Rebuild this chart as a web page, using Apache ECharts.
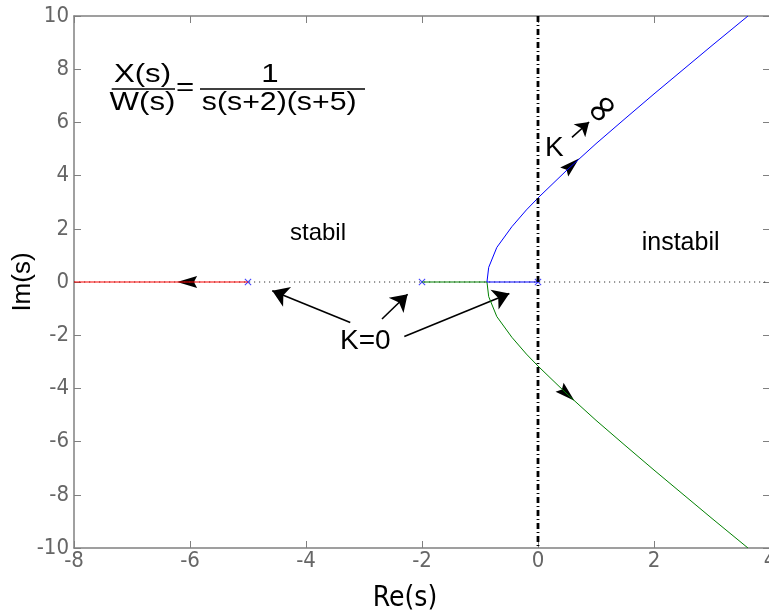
<!DOCTYPE html>
<html>
<head>
<meta charset="utf-8">
<script src="https://cdn.jsdelivr.net/npm/echarts@6/dist/echarts.min.js"></script>
<style>
html,body{margin:0;padding:0;background:#fff;}
#chart{width:769px;height:613px;}
</style>
</head>
<body>
<div id="chart"></div>
<script>
// ---- data ----
const xTicks = [-8, -6, -4, -2, 0, 2, 4];
const yTicks = [-10, -8, -6, -4, -2, 0, 2, 4, 6, 8, 10];
const poles = [[-5, 0], [-2, 0], [0, 0]];
const redBranch = [[-5, 0], [-8, 0]];
const blueBranch = [[0, 0], [-0.88, 0], [-0.85, 0.55], [-0.71, 1.30], [-0.45, 2.08], [-0.2, 2.71], [0, 3.16], [0.5, 4.21], [1, 5.2], [1.5, 6.14], [2, 7.07], [2.5, 7.98], [3, 8.89], [3.62, 10]];
const greenBranch = [[-2, 0], [-0.88, 0], [-0.85, -0.55], [-0.71, -1.30], [-0.45, -2.08], [-0.2, -2.71], [0, -3.16], [0.5, -4.21], [1, -5.2], [1.5, -6.14], [2, -7.07], [2.5, -7.98], [3, -8.89], [3.62, -10]];
const boundaryLine = [[0, 10], [0, -10]];
const realAxisLine = [[-8, 0], [4, 0]];
const curveArrowPos = [[-6.05, 0], [0.58, 4.39], [0.5, -4.21]];
const curveArrowDir = [90, -48, -132];
const noteArrows = [
  [[-3.237, -1.519], [-4.582, -0.331]],
  [[-2.690, -1.391], [-2.248, -0.459]],
  [[-2.305, -2.045], [-0.494, -0.433]]
];
const kArrow = [[0.586, 5.436], [0.881, 6.015]];

// ---- chart ----
const chart = echarts.init(document.getElementById('chart'), null, {renderer: 'canvas'});
const axisGray = '#808080';
const labelFont = "'Liberation Sans Narrow','DejaVu Sans Condensed','Liberation Sans',sans-serif";
const textFont = "'Liberation Sans',Arial,sans-serif";
const headPath = 'path://M5,0L10,19L5,16L0,19Z';

function boxAxis(pos, min, max, interval, showLabel, extra) {
  return Object.assign({
    type: 'value', position: pos, min: min, max: max, interval: interval,
    axisLine: {show: true, onZero: false, lineStyle: {color: axisGray, width: 1.5}},
    axisTick: {show: true, inside: true, length: 7, lineStyle: {color: axisGray, width: 1}},
    axisLabel: {show: showLabel, color: '#666', fontSize: 22, fontFamily: labelFont, margin: pos === 'left' ? 5 : 2},
    splitLine: {show: false}
  }, extra || {});
}

const xName = {
  name: 'Re(s)', nameLocation: 'middle', nameGap: 37, nameMoveOverlap: false,
  nameTextStyle: {color: '#000', fontSize: 28, fontFamily: labelFont, padding: [0, 34, 0, 0]}
};
const yName = {
  name: 'Im(s)', nameLocation: 'middle', nameGap: 38, nameRotate: 90, nameMoveOverlap: false,
  nameTextStyle: {color: '#000', fontSize: 26, fontFamily: textFont}
};

function txt(x, y, s, size, align, extra) {
  return Object.assign({type: 'text', x: x, y: y, style: {text: s, fill: '#000', fontSize: size, fontFamily: textFont,
    align: align, verticalAlign: 'middle', textAlign: align, textVerticalAlign: 'middle'}}, extra || {});
}

const option = {
  animation: false,
  backgroundColor: '#fff',
  grid: {left: 74, top: 16, width: 696, height: 532, containLabel: false, outerBoundsMode: 'none'},
  xAxis: [
    boxAxis('bottom', xTicks[0], xTicks[xTicks.length - 1], xTicks[1] - xTicks[0], true, xName),
    boxAxis('top', xTicks[0], xTicks[xTicks.length - 1], xTicks[1] - xTicks[0], false)
  ],
  yAxis: [
    boxAxis('left', yTicks[0], yTicks[yTicks.length - 1], yTicks[1] - yTicks[0], true, yName),
    boxAxis('right', yTicks[0], yTicks[yTicks.length - 1], yTicks[1] - yTicks[0], false)
  ],
  series: [
    {type: 'line', data: realAxisLine, symbol: 'none', silent: true,
     lineStyle: {color: '#333', width: 1, type: [1.2, 3.8]}},
    {type: 'line', data: redBranch, symbol: 'none', lineStyle: {color: '#ff0000', width: 1}},
    {type: 'line', data: greenBranch, symbol: 'none', lineStyle: {color: '#008000', width: 1}},
    {type: 'line', data: blueBranch, symbol: 'none', lineStyle: {color: '#0000ff', width: 1}},
    {type: 'line', data: boundaryLine, symbol: 'none',
     lineStyle: {color: '#000', width: 2.8, type: [6, 3, 1, 3]}},
    {type: 'scatter', data: poles, symbol: 'path://M0,1L1,0L5,4L9,0L10,1L6,5L10,9L9,10L5,6L1,10L0,9L4,5Z',
     symbolSize: 7, itemStyle: {color: '#4040ff', opacity: 1}},
    {type: 'scatter', symbol: headPath, symbolSize: [12, 20], itemStyle: {color: '#000', opacity: 1},
     data: curveArrowPos.map((p, i) => ({value: p, symbolRotate: curveArrowDir[i]}))},
    {type: 'lines', coordinateSystem: 'cartesian2d', polyline: false,
     symbol: ['none', 'arrow'], symbolSize: [9, 16],
     lineStyle: {color: '#000', width: 1.6, opacity: 1},
     data: noteArrows.map(a => ({coords: a}))},
    {type: 'lines', coordinateSystem: 'cartesian2d', polyline: false,
     symbol: ['none', 'arrow'], symbolSize: [8, 13],
     lineStyle: {color: '#000', width: 1.6, opacity: 1},
     data: [{coords: kArrow}]}
  ],
  graphic: [
    txt(142.5, 74.5, 'X(s)', 26, 'center', {scaleX: 1.2}),
    {type: 'line', shape: {x1: 111.7, y1: 89, x2: 175, y2: 89}, style: {stroke: '#000', lineWidth: 1.3}},
    txt(142.5, 103, 'W(s)', 26, 'center', {scaleX: 1.2}),
    txt(185, 88, '=', 26, 'center', {scaleX: 1.2}),
    txt(270, 74.5, '1', 26, 'center', {scaleX: 1.2}),
    {type: 'line', shape: {x1: 200, y1: 89, x2: 365, y2: 89}, style: {stroke: '#000', lineWidth: 1.3}},
    txt(279.2, 103, 's(s+2)(s+5)', 26, 'center', {scaleX: 1.165}),
    txt(290, 233, 'stabil', 24, 'left'),
    txt(641.7, 243, 'instabil', 25, 'left'),
    txt(340, 341.5, 'K=0', 28, 'left'),
    txt(545, 148.3, 'K', 28, 'left'),
    {type: 'text', x: 603.5, y: 110, rotation: Math.PI / 4, style: {text: '∞', fill: '#000', fontSize: 40, fontFamily: "'DejaVu Sans',sans-serif",
      align: 'center', verticalAlign: 'middle', textAlign: 'center', textVerticalAlign: 'middle'}}
  ]
};
chart.setOption(option);
</script>
</body>
</html>
